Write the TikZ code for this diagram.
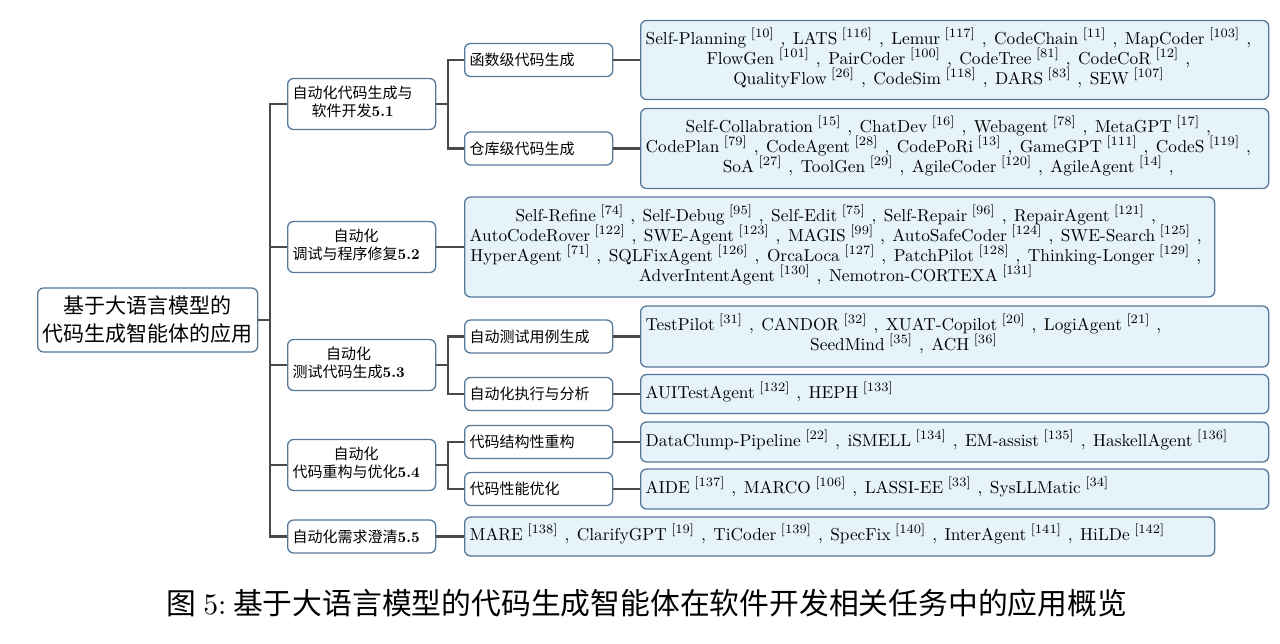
\documentclass[tikz,border=0pt]{standalone}
\usepackage{fontspec}
\setmainfont{lmroman10-regular.otf}[BoldFont=lmroman10-bold.otf, ItalicFont=lmroman10-italic.otf]
\newfontfamily\cjk{Noto Sans CJK SC}
\newfontfamily\supfont{lmroman7-regular.otf}
\usetikzlibrary{calc}
\definecolor{bordc}{HTML}{56789A}
\definecolor{leafc}{HTML}{E6F3FB}
\definecolor{connc}{HTML}{4A4A4A}
\newcommand\rf[1]{\hspace{4.5pt}\raisebox{7pt}[0pt][0pt]{\supfont\fontsize{12.8}{12.8}\selectfont[#1]}}
\newcommand\sep{\hspace{7pt},\hspace{7.5pt}}
\newcommand\esep{\hspace{7pt},}
\newcommand\lines[1]{\raisebox{-2pt}{\begin{tabular}{@{}c@{}}#1\end{tabular}}}
\tikzset{
  conn/.style={draw=connc, line width=2.6pt},
  boxbase/.style={draw=bordc, line width=1.3pt, rounded corners=6pt, anchor=west, inner xsep=5pt, inner ysep=0pt, align=left},
  lvlone/.style={boxbase, fill=white, text width=138pt, minimum height=51pt, font=\cjk\fontsize{15}{18}\selectfont},
  lvltwo/.style={boxbase, fill=white, text width=138pt, minimum height=33pt, font=\cjk\fontsize{15}{18}\selectfont},
  leafw/.style={boxbase, fill=leafc, text width=618pt, font=\fontsize{17.3}{20}\selectfont},
  leafx/.style={boxbase, fill=leafc, text width=740pt, font=\fontsize{17.3}{20}\selectfont},
  rootn/.style={draw=bordc, line width=1.3pt, rounded corners=6pt, anchor=west, fill=white, text width=210pt, minimum height=64pt, align=center, inner xsep=5pt, font=\cjk\fontsize{21}{28}\selectfont},
}
\begin{document}
\begin{tikzpicture}[x=1pt,y=-1pt]
\useasboundingbox (0,0) rectangle (1280,643);
% root
\node[rootn] (root) at (37,320) {基于大语言模型的\\代码生成智能体的应用};
\coordinate (tr) at (270,320);
\coordinate (ta) at (448,104);
\coordinate (tb) at (448,365);
\coordinate (tc) at (448,465);
% level one
\node[lvlone] (a1) at (287,104) {\begin{tabular}{@{}c@{}}自动化代码生成与\\软件开发{\rmfamily\bfseries 5.1}\end{tabular}};
\node[lvlone] (a2) at (287,247) {\begin{tabular}{@{}c@{}}自动化\\调试与程序修复{\rmfamily\bfseries 5.2}\end{tabular}};
\node[lvlone] (a3) at (287,365) {\begin{tabular}{@{}c@{}}自动化\\测试代码生成{\rmfamily\bfseries 5.3}\end{tabular}};
\node[lvlone] (a4) at (287,465) {\begin{tabular}{@{}c@{}}自动化\\代码重构与优化{\rmfamily\bfseries 5.4}\end{tabular}};
\node[lvltwo] (a5) at (287,536.5) {自动化需求澄清{\rmfamily\bfseries 5.5}};
% level two
\node[lvltwo] (b1) at (464,60) {函数级代码生成};
\node[lvltwo] (b2) at (464,148.5) {仓库级代码生成};
\node[lvltwo] (b3) at (464,336.5) {自动测试用例生成};
\node[lvltwo] (b4) at (464,394) {自动化执行与分析};
\node[lvltwo] (b5) at (464,442) {代码结构性重构};
\node[lvltwo] (b6) at (464,489) {代码性能优化};
% leaves
\node[leafw, minimum height=79pt] (c1) at (640,60) {\lines{%
Self-Planning\rf{10}\sep LATS\rf{116}\sep Lemur\rf{117}\sep CodeChain\rf{11}\sep MapCoder\rf{103}\esep\\
FlowGen\rf{101}\sep PairCoder\rf{100}\sep CodeTree\rf{81}\sep CodeCoR\rf{12}\esep\\
QualityFlow\rf{26}\sep CodeSim\rf{118}\sep DARS\rf{83}\sep SEW\rf{107}}};
\node[leafw, minimum height=80pt] (c2) at (640,148.5) {\lines{%
Self-Collabration\rf{15}\sep ChatDev\rf{16}\sep Webagent\rf{78}\sep MetaGPT\rf{17}\esep\\
CodePlan\rf{79}\sep CodeAgent\rf{28}\sep CodePoRi\rf{13}\sep GameGPT\rf{111}\sep CodeS\rf{119}\esep\\
SoA\rf{27}\sep ToolGen\rf{29}\sep AgileCoder\rf{120}\sep AgileAgent\rf{14}\esep}};
\node[leafx, minimum height=100pt] (c3) at (464,247) {\lines{%
Self-Refine\rf{74}\sep Self-Debug\rf{95}\sep Self-Edit\rf{75}\sep Self-Repair\rf{96}\sep RepairAgent\rf{121}\esep\\
AutoCodeRover\rf{122}\sep SWE-Agent\rf{123}\sep MAGIS\rf{99}\sep AutoSafeCoder\rf{124}\sep SWE-Search\rf{125}\esep\\
HyperAgent\rf{71}\sep SQLFixAgent\rf{126}\sep OrcaLoca\rf{127}\sep PatchPilot\rf{128}\sep Thinking-Longer\rf{129}\esep\\
AdverIntentAgent\rf{130}\sep Nemotron-CORTEXA\rf{131}}};
\node[leafw, minimum height=61pt] (c4) at (640,336.5) {\lines{%
TestPilot\rf{31}\sep CANDOR\rf{32}\sep XUAT-Copilot\rf{20}\sep LogiAgent\rf{21}\esep\\
SeedMind\rf{35}\sep ACH\rf{36}}};
\node[leafw, minimum height=39pt] (c5) at (640,394) {AUITestAgent\rf{132}\sep HEPH\rf{133}};
\node[leafw, minimum height=40pt] (c6) at (640,442) {DataClump-Pipeline\rf{22}\sep iSMELL\rf{134}\sep EM-assist\rf{135}\sep HaskellAgent\rf{136}};
\node[leafw, minimum height=40pt] (c7) at (640,489) {AIDE\rf{137}\sep MARCO\rf{106}\sep LASSI-EE\rf{33}\sep SysLLMatic\rf{34}};
\node[leafx, minimum height=39pt] (c8) at (464,536.5) {MARE\rf{138}\sep ClarifyGPT\rf{19}\sep TiCoder\rf{139}\sep SpecFix\rf{140}\sep InterAgent\rf{141}\sep HiLDe\rf{142}};
% connectors
\draw[conn] (root.east) -- (tr);
\draw[conn] (tr) |- (a1.west);
\draw[conn] (tr) |- (a2.west);
\draw[conn] (tr) |- (a3.west);
\draw[conn] (tr) |- (a4.west);
\draw[conn] (tr) |- (a5.west);
\draw[conn] (a1.east) -- (ta);
\draw[conn] (ta) |- (b1.west);
\draw[conn] (ta) |- (b2.west);
\draw[conn] (a3.east) -- (tb);
\draw[conn] (tb) |- (b3.west);
\draw[conn] (tb) |- (b4.west);
\draw[conn] (a4.east) -- (tc);
\draw[conn] (tc) |- (b5.west);
\draw[conn] (tc) |- (b6.west);
\draw[conn] (a2.east) -- (c3.west);
\draw[conn] (a5.east) -- (c8.west);
\draw[conn] (b1.east) -- (c1.west);
\draw[conn] (b2.east) -- (c2.west);
\draw[conn] (b3.east) -- (c4.west);
\draw[conn] (b4.east) -- (c5.west);
\draw[conn] (b5.east) -- (c6.west);
\draw[conn] (b6.east) -- (c7.west);
% caption
\node[font=\cjk\fontsize{29.8}{34}\selectfont, inner sep=0pt] (cap) at (647,603) {图\ {\rmfamily 5:}\ 基于大语言模型的代码生成智能体在软件开发相关任务中的应用概览};
\end{tikzpicture}
\end{document}
